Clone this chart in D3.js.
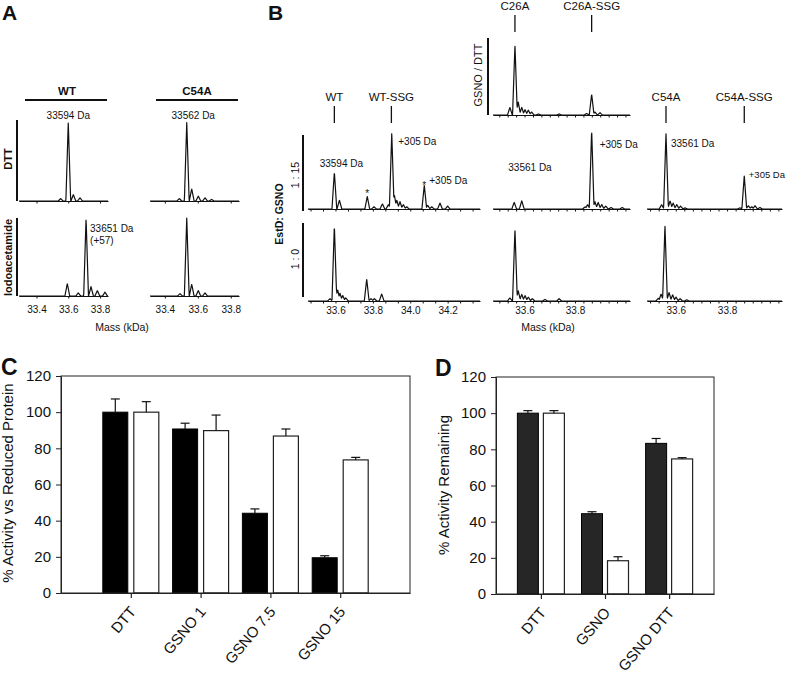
<!DOCTYPE html>
<html><head><meta charset="utf-8">
<script src="https://cdn.jsdelivr.net/npm/d3@7"></script>
<style>
body{margin:0;background:#fff;}
svg{display:block;}
</style></head><body>
<script>
// ================= DATA =================
// Panel A – deconvoluted mass spectra, peaks as [mass kDa, relative intensity]
const aMassTicks = [33.4, 33.6, 33.8];
const aWT_DTT   = [[33.552,0.03],[33.600,0.97],[33.632,0.08],[33.674,0.04]];
const aWT_IAM   = [[33.594,0.16],[33.663,0.04],[33.712,1.00],[33.743,0.12],[33.783,0.07],[33.831,0.05]];
const aC54A_DTT = [[33.488,0.03],[33.533,0.97],[33.563,0.15],[33.603,0.06],[33.644,0.04],[33.684,0.02]];
const aC54A_IAM = [[33.492,0.03],[33.533,1.00],[33.563,0.15],[33.603,0.07],[33.644,0.04]];

// Panel B – spectra
const bWTTicks  = [33.6, 33.8, 34.0, 34.2];
const bMutTicks = [33.6, 33.8];
const bWT_115 = [[33.594,0.50],[33.621,0.12],[33.770,0.17],[33.806,0.03],[33.851,0.07],[33.883,0.06],
  [33.901,1.02],[33.915,0.19],[33.928,0.12],[33.945,0.10],[33.963,0.06],[33.981,0.03],
  [34.075,0.32],[34.093,0.05],[34.115,0.03],[34.159,0.08],[34.200,0.04]];
const bWT_10 = [[33.571,0.03],[33.594,0.97],[33.603,0.17],[33.612,0.14],[33.624,0.10],[33.639,0.07],
  [33.655,0.04],[33.767,0.28],[33.790,0.03],[33.808,0.03],[33.847,0.09]];
const bC26A_GD = [[33.542,0.10],[33.562,0.91],[33.575,0.17],[33.589,0.10],[33.602,0.07],[33.615,0.065],
  [33.628,0.04],[33.655,0.013],[33.737,0.013],[33.846,0.02],[33.866,0.27],[33.879,0.04],[33.899,0.03]];
const bC26A_115 = [[33.559,0.09],[33.589,0.11],[33.840,0.03],[33.850,0.06],[33.866,1.07],[33.879,0.10],
  [33.892,0.09],[33.906,0.06],[33.922,0.04],[33.943,0.02],[33.987,0.02]];
const bC26A_10 = [[33.542,0.04],[33.562,0.92],[33.575,0.13],[33.589,0.085],[33.602,0.07],[33.615,0.05],
  [33.631,0.03],[33.681,0.02],[33.737,0.03]];
const bC54A_115 = [[33.545,0.06],[33.562,1.02],[33.578,0.11],[33.590,0.08],[33.604,0.06],[33.619,0.04],
  [33.636,0.015],[33.850,0.015],[33.867,0.45],[33.883,0.045],[33.896,0.03],[33.909,0.045],[33.928,0.02]];
const bC54A_10 = [[33.532,0.035],[33.543,0.09],[33.558,0.97],[33.574,0.11],[33.588,0.08],[33.601,0.05],
  [33.617,0.03],[33.643,0.015]];
const bMarksWT   = [["WT",33.594],["WT-SSG",33.899]];
const bMarksC26A = [["C26A",33.562],["C26A-SSG",33.866]];
const bMarksC54A = [["C54A",33.562],["C54A-SSG",33.867]];

// Panel C – activity vs reduced protein
const catsC   = ["DTT","GSNO 1","GSNO 7.5","GSNO 15"];
const wtC     = [100, 90.7, 44.1, 19.5];
const wtErrC  = [7.3, 3.2, 2.4, 1.1];
const mutC    = [100, 89.8, 86.8, 73.6];
const mutErrC = [5.8, 8.6, 3.9, 1.4];
// Panel D – activity remaining
const catsD   = ["DTT","GSNO","GSNO DTT"];
const wtD     = [100, 44.4, 83.3];
const wtErrD  = [1.4, 1.1, 2.7];
const mutD    = [100, 18.4, 74.7];
const mutErrD = [1.4, 2.2, 0.7];
const yTicks  = [0,20,40,60,80,100,120];

// ================= DRAWING =================
const FONT = 'Arial, "Liberation Sans", Helvetica, sans-serif';
const INK = '#111';
const svg = d3.select('body').append('svg').attr('width',786).attr('height',675)
  .style('font-family',FONT);

function text(x,y,s,o={}){
  const t = svg.append('text').attr('x',x).attr('y',y).text(s)
    .attr('font-size',o.size||11).attr('text-anchor',o.anchor||'start').attr('fill',INK);
  if(o.bold) t.attr('font-weight','bold');
  if(o.rot!=null) t.attr('transform',`rotate(${o.rot},${x},${y})`);
  return t;
}
function line(x1,y1,x2,y2,w,c){
  svg.append('line').attr('x1',x1).attr('y1',y1).attr('x2',x2).attr('y2',y2)
    .attr('stroke',c||INK).attr('stroke-width',w||1);
}
function spectrum(peaks, xs, ys, hw){
  hw = hw||2.4;
  const [x0,x1] = xs.range();
  const pp = peaks.map(([m,h])=>[xs(m),h]);
  const pts=[];
  for(let x=x0;x<=x1+1e-6;x+=0.25){
    let v=0;
    for(const [px,h] of pp){const d=Math.abs(x-px); if(d<hw) v=Math.max(v,h*(1-d/hw));}
    pts.push([x,ys(v)]);
  }
  svg.append('path').attr('d',d3.line()(pts)).attr('fill','none')
    .attr('stroke',INK).attr('stroke-width',1.2).attr('stroke-linejoin','round');
}
function massAxis(xs, y, step, start, labels, labelY, size){
  const [d0,d1]=xs.domain();
  const tv=[]; for(let m=start; m<=d1+1e-9; m+=step){ if(m>=d0) tv.push(m); }
  const g = svg.append('g').attr('transform',`translate(0,${y})`)
    .call(d3.axisBottom(xs).tickValues(tv).tickSize(2.5).tickSizeOuter(0).tickFormat(''));
  g.selectAll('path,line').attr('stroke',INK).attr('stroke-width',1);
  if(labels){
    const gl = svg.append('g').attr('transform',`translate(0,${labelY})`)
      .call(d3.axisBottom(xs).tickValues(labels).tickSize(0).tickPadding(0).tickFormat(d3.format('.1f')));
    gl.select('.domain').remove();
    gl.selectAll('text').attr('font-size',size||10).attr('font-family',FONT).attr('fill',INK).attr('dy',0);
  }
}

// ---------- Panel A ----------
text(2,20,'A',{size:21,bold:true});
const xA1 = d3.scaleLinear().domain([33.29,33.85]).range([19,108]);
const xA2 = d3.scaleLinear().domain([33.31,33.85]).range([150,239]);
const yA1 = d3.scaleLinear().domain([0,1]).range([201,120]);
const yA2 = d3.scaleLinear().domain([0,1]).range([296,218]);
text(67,95,'WT',{size:11.5,bold:true,anchor:'middle'});
line(25,100,107,100,2.2);
text(197,95,'C54A',{size:11.5,bold:true,anchor:'middle'});
line(156,100,238,100,2.2);
line(17,120,17,201,2); line(17,218,17,296,2);
text(11.5,159,'DTT',{size:11,bold:true,anchor:'middle',rot:-90});
text(11.5,257.5,'Iodoacetamide',{size:11,bold:true,anchor:'middle',rot:-90});
massAxis(xA1,201,0.2,33.4,null);
massAxis(xA2,201,0.2,33.4,null);
massAxis(xA1,296,0.2,33.4,aMassTicks,313);
massAxis(xA2,296,0.2,33.4,aMassTicks,313);
spectrum(aWT_DTT,xA1,yA1);
spectrum(aWT_IAM,xA1,yA2);
spectrum(aC54A_DTT,xA2,yA1);
spectrum(aC54A_IAM,xA2,yA2);
text(xA1(aWT_DTT[1][0]),119,'33594 Da',{size:10,anchor:'middle'});
text(xA2(aC54A_DTT[1][0])+6.5,119,'33562 Da',{size:10,anchor:'middle'});
text(xA1(aWT_IAM[2][0])+4,232,'33651 Da',{size:10});
text(xA1(aWT_IAM[2][0])+4,243.5,'(+57)',{size:10});
text(122,331,'Mass (kDa)',{size:10.5,anchor:'middle'});

// ---------- Panel B ----------
text(268,20,'B',{size:21,bold:true});
const xB1 = d3.scaleLinear().domain([33.453,34.373]).range([308,480]);
const xB2 = d3.scaleLinear().domain([33.475,34.018]).range([493,630]);
const xB3 = d3.scaleLinear().domain([33.488,34.014]).range([647,782]);
const yGD = d3.scaleLinear().domain([0,1]).range([115,38]);
const yR1 = d3.scaleLinear().domain([0,1]).range([209,135]);
const yR2 = d3.scaleLinear().domain([0,1]).range([301,223]);

function marks(arr, xs, ty, l1, l2){
  arr.forEach(([lab,m])=>{
    text(xs(m),ty,lab,{size:11.5,anchor:'middle'});
    line(xs(m),l1,xs(m),l2,1.3);
  });
}
marks(bMarksWT,xB1,101,106,123);
marks(bMarksC26A,xB2,10,15,32);
marks(bMarksC54A,xB3,101,106,123);

line(303,135,303,211,2); line(303,223,303,297,2); line(488,38,488,115,2);
text(283,214,'EstD: GSNO',{size:10.5,bold:true,anchor:'middle',rot:-90});
text(298.5,175,'1 : 15',{size:10.5,anchor:'middle',rot:-90});
text(298.5,259,'1 : 0',{size:10.5,anchor:'middle',rot:-90});
text(482,75,'GSNO / DTT',{size:11,anchor:'middle',rot:-90});

massAxis(xB2,115,0.2/6,33.4,null);
massAxis(xB1,209,0.2/3,33.4,null);
massAxis(xB2,209,0.2/6,33.4,null);
massAxis(xB3,209,0.2/6,33.4,null);
massAxis(xB1,301,0.2/3,33.4,bWTTicks,314);
massAxis(xB2,301,0.2/6,33.4,bMutTicks,314);
massAxis(xB3,301,0.2/6,33.4,bMutTicks,314);

spectrum(bC26A_GD,xB2,yGD);
spectrum(bWT_115,xB1,yR1);
spectrum(bWT_10,xB1,yR2);
spectrum(bC26A_115,xB2,yR1);
spectrum(bC26A_10,xB2,yR2);
spectrum(bC54A_115,xB3,yR1);
spectrum(bC54A_10,xB3,yR2);

text(xB1(33.594)+7,167,'33594 Da',{size:10,anchor:'middle'});
text(xB1(33.901)+6.5,145,'+305 Da',{size:10});
text(xB1(33.770),197,'*',{size:10,anchor:'middle'});
text(xB1(34.075),189,'*',{size:10,anchor:'middle'});
text(xB1(34.075)+5,184,'+305 Da',{size:10});
text(530,170.5,'33561 Da',{size:10,anchor:'middle'});
text(xB2(33.866)+8,148,'+305 Da',{size:10});
text(xB3(33.562)+5,147,'33561 Da',{size:10});
text(785,178,'+305 Da',{size:9.5,anchor:'end'});
text(548,331,'Mass (kDa)',{size:10.5,anchor:'middle'});

// ---------- Panels C & D ----------
function barPanel(cats, wt, wtErr, mut, mutErr, xr, yr, pad, bw, gap, blackFill, label, lx, ytitle, tx, ty){
  const x = d3.scalePoint().domain(cats).range(xr).padding(pad);
  const y = d3.scaleLinear().domain([0,120]).range(yr);
  const g = svg.append('g');
  cats.forEach((c,i)=>{
    const cx = x(c);
    const bx = cx-gap/2-bw, wx = cx+gap/2;
    g.append('rect').attr('x',bx).attr('y',y(wt[i])).attr('width',bw).attr('height',y(0)-y(wt[i]))
      .attr('fill',blackFill).attr('stroke','#000').attr('stroke-width',1);
    g.append('rect').attr('x',wx).attr('y',y(mut[i])).attr('width',bw).attr('height',y(0)-y(mut[i]))
      .attr('fill','#fff').attr('stroke','#222').attr('stroke-width',1.2);
    [[bx+bw/2,wt[i],wtErr[i]],[wx+bw/2,mut[i],mutErr[i]]].forEach(([ex,v,e])=>{
      g.append('line').attr('x1',ex).attr('x2',ex).attr('y1',y(v)).attr('y2',y(v+e)).attr('stroke','#111').attr('stroke-width',1.2);
      g.append('line').attr('x1',ex-4.5).attr('x2',ex+4.5).attr('y1',y(v+e)).attr('y2',y(v+e)).attr('stroke','#111').attr('stroke-width',1.2);
    });
  });
  svg.append('rect').attr('x',xr[0]).attr('y',yr[1]).attr('width',xr[1]-xr[0]).attr('height',yr[0]-yr[1])
    .attr('fill','none').attr('stroke','#222').attr('stroke-width',1);
  const ga = svg.append('g').attr('transform',`translate(${xr[0]},0)`)
    .call(d3.axisLeft(y).tickValues(yTicks).tickSize(5).tickPadding(5).tickSizeOuter(0));
  ga.selectAll('text').attr('font-size',15).attr('font-family',FONT).attr('fill',INK);
  ga.selectAll('line,path').attr('stroke','#222');
  const gb = svg.append('g').attr('transform',`translate(0,${yr[0]})`)
    .call(d3.axisBottom(x).tickSize(5).tickSizeOuter(0).tickFormat(''));
  gb.selectAll('line,path').attr('stroke','#222').attr('stroke-width',1.2);
  cats.forEach(c=>{
    text(x(c)+6, yr[0]+19, c, {size:15, anchor:'end', rot:-50});
  });
  text(lx, yr[1]-1, label, {size:23, bold:true});
  text(tx, ty, ytitle, {size:15, anchor:'middle', rot:-90});
}
barPanel(catsC, wtC, wtErrC, mutC, mutErrC, [61,410], [593,376], 1, 25, 6, '#000', 'C', 1, '% Activity vs Reduced Protein', 13, 483);
barPanel(catsD, wtD, wtErrD, mutD, mutErrD, [496,714], [594,377], 0.7, 21, 5, '#262626', 'D', 435, '% Activity Remaining', 448.5, 485);
</script></body></html>
